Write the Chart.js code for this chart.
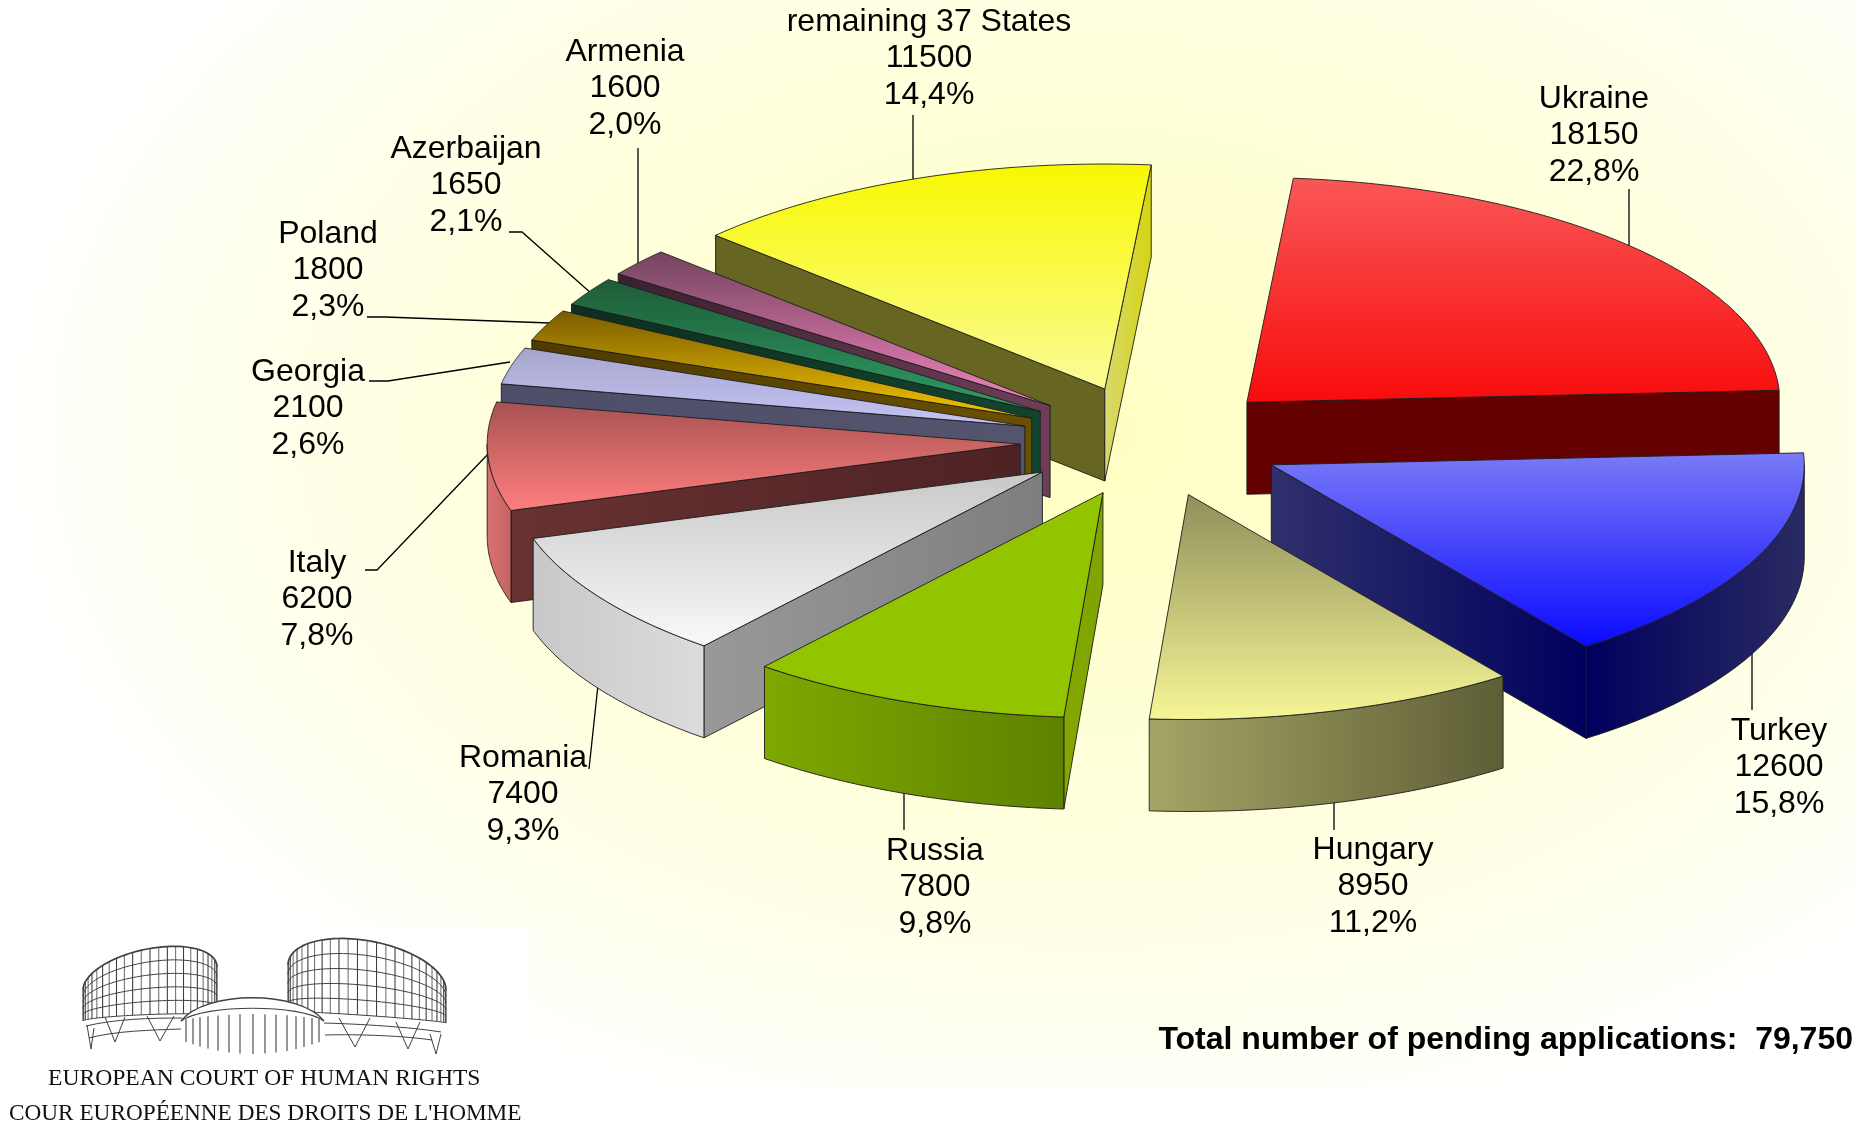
<!DOCTYPE html>
<html>
<head>
<meta charset="utf-8">
<title>Pending applications</title>
<script src="https://cdn.jsdelivr.net/npm/chart.js@4/dist/chart.umd.js"></script>
<style>
html,body{margin:0;padding:0;background:#ffffff;overflow:hidden}
#wrap{width:1855px;height:1136px}
canvas{display:block}
</style>
</head>
<body>
<div id="wrap"><canvas id="c" width="1855" height="1136"></canvas></div>
<script>
const categories = ['Ukraine','Turkey','Hungary','Russia','Romania','Italy','Georgia','Poland','Azerbaijan','Armenia','remaining 37 States'];
const pending = [18150,12600,8950,7800,7400,6200,2100,1800,1650,1600,11500];
const shares = ['22,8%','15,8%','11,2%','9,8%','9,3%','7,8%','2,6%','2,3%','2,1%','2,0%','14,4%'];
const totalLabel = 'Total number of pending applications:  79,750';

/* layout and style: separate from the data */
const TILT = 0.422, DEPTH = 92, EXPLODE = 132, RADIUS = 533, ROTATION = 5;
const looks = [
 {top:['#f95757','#f80c0c'], wallE:['#640000','#640000']},
 {top:['#7a7af8','#0a0aff'], wallE:['#30306c','#00005e'], arc:['#00005e','#2a2a62']},
 {top:['#8f8f5a','#f6f696'], arc:['#a5a566','#5e5e36']},
 {top:['#92c500','#92c500'], wallS:['#84a800','#80a400'], arc:['#7fa800','#5e8200']},
 {top:['#c8c8c8','#f9f9f9'], wallS:['#999999','#7e7e7e'], arc:['#c8c8c8','#dcdcdc']},
 {top:['#a85252','#ff7e7e'], wallS:['#683232','#4e2224'], arc:['#d87070','#c86464']},
 {top:['#a6a6cc','#c4c4f6'], wallS:['#4e4e68','#54546e']},
 {top:['#7a5c00','#f4c400'], wallS:['#4e3a00','#6a5000']},
 {top:['#1e5c38','#2f9c64'], wallS:['#0e2e1e','#12452e']},
 {top:['#74445f','#f284bc'], wallS:['#3a2030','#6e3e58']},
 {top:['#f8f800','#fbfb98'], wallS:['#666622','#666622'], wallE:['#d8d870','#d4d410']}
];
const labelAt = [[1594,99],[1779,731],[1373,850],[935,851],[523,758],[317,563],[308,372],[328,234],[466,149],[625,52],[929,22]];
const leaders = [
 [[1629,189],[1629,250]],
 [[1752,640],[1752,710]],
 [[1334,800],[1334,830]],
 [[904,790],[904,830]],
 [[598,685],[589,769]],
 [[365,570],[377,570],[490,452]],
 [[369,381],[388,381],[510,362]],
 [[367,317],[385,317],[550,323]],
 [[509,232],[522,232],[592,294]],
 [[638,148],[638,265]],
 [[913,115],[913,182]]
];
const LINE = 36.6;

function wallGradient(ctx, colors, x0, x1){
  const g = ctx.createLinearGradient(Math.min(x0,x1),0,Math.max(x0,x1)+0.01,0);
  g.addColorStop(0,colors[0]); g.addColorStop(1,colors[1]);
  return g;
}
function polygon(ctx, pts){
  ctx.beginPath();
  pts.forEach((p,i)=> i?ctx.lineTo(p[0],p[1]):ctx.moveTo(p[0],p[1]));
  ctx.closePath();
}
function paint(ctx, pts, fill){
  polygon(ctx, pts);
  ctx.fillStyle = fill; ctx.fill();
  ctx.strokeStyle = '#1c1c1c'; ctx.lineWidth = 0.9; ctx.lineJoin='round'; ctx.stroke();
}
function drawSlice(ctx, arc, look){
  const s = arc.startAngle, e = arc.endAngle, R = arc.outerRadius, m = (s+e)/2;
  const cx = arc.x + Math.cos(m)*EXPLODE, cy = arc.y + Math.sin(m)*EXPLODE*TILT;
  const at = (t,d=0)=>[cx+Math.cos(t)*R, cy+Math.sin(t)*R*TILT+d];
  const apex = [cx,cy], down = p=>[p[0],p[1]+DEPTH];
  if (look.wallS && -Math.cos(s) > 0){
    const a = at(s);
    paint(ctx,[apex,a,down(a),down(apex)],wallGradient(ctx,look.wallS,apex[0],a[0]));
  }
  if (look.wallE && Math.cos(e) > 0){
    const a = at(e);
    paint(ctx,[apex,a,down(a),down(apex)],wallGradient(ctx,look.wallE,apex[0],a[0]));
  }
  const a0 = Math.max(s,0), a1 = Math.min(e,Math.PI);
  if (look.arc && a1 > a0){
    const upper = [];
    for (let i=0;i<=60;i++) upper.push(at(a0+(a1-a0)*i/60));
    const lower = upper.map(down).reverse();
    const xs = upper.map(p=>p[0]);
    paint(ctx,upper.concat(lower),wallGradient(ctx,look.arc,Math.min(...xs),Math.max(...xs)));
  }
  const rim = [apex];
  for (let i=0;i<=80;i++) rim.push(at(s+(e-s)*i/80));
  const ys = rim.map(p=>p[1]);
  const g = ctx.createLinearGradient(0,Math.min(...ys),0,Math.max(...ys));
  g.addColorStop(0,look.top[0]); g.addColorStop(1,look.top[1]);
  paint(ctx,rim,g);
}

function drum(ctx,x0,x1,top,bot,nV,nH){
  const cx=(x0+x1)/2, rx=(x1-x0)/2;
  const P=(th,c)=>{const x=cx-rx*Math.cos(th);const t=(x-x0)/(x1-x0);return [x,c[0]+(c[1]-c[0])*t-c[2]*Math.sin(th)];};
  const ring=(th,f)=>{const a=P(th,top),b=P(th,bot);return [a[0],a[1]+(b[1]-a[1])*f];};
  for(let j=0;j<=nH;j++){
    ctx.beginPath();
    for(let i=0;i<=50;i++){const p=ring(Math.PI*i/50,j/nH); i?ctx.lineTo(p[0],p[1]):ctx.moveTo(p[0],p[1]);}
    ctx.lineWidth=j===0?1.7:1; ctx.stroke();
  }
  for(let i=0;i<=nV;i++){
    const th=Math.PI*i/nV, a=ring(th,0), b=ring(th,1);
    ctx.lineWidth=i%2?0.8:1.1;
    ctx.beginPath();ctx.moveTo(a[0],a[1]);ctx.lineTo(b[0],b[1]);ctx.stroke();
  }
}
function strokePts(ctx,pts,w){ctx.lineWidth=w||1;ctx.beginPath();pts.forEach((p,i)=>i?ctx.lineTo(p[0],p[1]):ctx.moveTo(p[0],p[1]));ctx.stroke();}
function curve(ctx,p0,c1,c2,p1,w){ctx.lineWidth=w;ctx.beginPath();ctx.moveTo(p0[0],p0[1]);ctx.bezierCurveTo(c1[0],c1[1],c2[0],c2[1],p1[0],p1[1]);ctx.stroke();}
function drawLogo(ctx){
  ctx.save();
  ctx.strokeStyle='#404040';
  drum(ctx,83,217,[990,967,30],[1021,1016,4],24,5);
  drum(ctx,288,446,[965,990,37],[1012,1023,2],26,5);
  curve(ctx,[86,1026],[115,1019],[150,1018],[182,1018],1);
  curve(ctx,[89,1038],[115,1031],[150,1030],[182,1029],1);
  [[105,115,125,1017,1042],[147,160,174,1016,1041]].forEach(v=>strokePts(ctx,[[v[0],v[3]],[v[1],v[4]],[v[2],v[3]]],1));
  strokePts(ctx,[[87,1025],[91,1049],[94,1028]],1);
  curve(ctx,[324,1023],[360,1024],[410,1027],[441,1032],1);
  curve(ctx,[325,1035],[360,1034],[405,1036],[432,1040],1);
  [[339,355,370,1018,1047],[396,408,420,1022,1049]].forEach(v=>strokePts(ctx,[[v[0],v[3]],[v[1],v[4]],[v[2],v[3]]],1));
  strokePts(ctx,[[430,1034],[436,1054],[441,1034]],1);
  ctx.fillStyle='#ffffff';
  ctx.beginPath();ctx.moveTo(181,1021);ctx.bezierCurveTo(205,990,300,990,324,1021);ctx.lineTo(324,1060);ctx.lineTo(181,1060);ctx.closePath();ctx.fill();
  const xs=[186,193,200,208,218,229,240,253,265,276,287,296,304,312,319];
  xs.forEach(x=>{const u=(x-253)/72;const y0=1014+6*u*u,y1=1054-14*u*u;ctx.lineWidth=1.1;ctx.beginPath();ctx.moveTo(x,y0);ctx.lineTo(x,y1);ctx.stroke();});
  curve(ctx,[181,1021],[205,990],[300,990],[324,1021],1.4);
  curve(ctx,[181,1021],[205,1004],[300,1004],[324,1021],1.2);
  ctx.restore();
  ctx.fillStyle='#111';
  ctx.textAlign='left';ctx.textBaseline='middle';
  ctx.font='23.6px "Liberation Serif"';
  ctx.fillText('EUROPEAN COURT OF HUMAN RIGHTS',48,1079);
  ctx.font='23.25px "Liberation Serif"';
  ctx.fillText("COUR EUROPÉENNE DES DROITS DE L'HOMME",9,1114);
}

const pie3d = {
  id:'pie3d',
  beforeDraw(chart){
    const ctx=chart.ctx;
    ctx.save();
    ctx.fillStyle='#ffffff';ctx.fillRect(0,0,1855,1136);
    ctx.save();
    ctx.translate(1085,430);ctx.scale(1,0.66);
    const g=ctx.createRadialGradient(0,0,30,0,0,1090);
    g.addColorStop(0,'#ffffc4');
    g.addColorStop(0.35,'#ffffd4');
    g.addColorStop(0.6,'#ffffe2');
    g.addColorStop(0.82,'#fffff0');
    g.addColorStop(1,'#ffffff');
    ctx.fillStyle=g;ctx.fillRect(-1200,-1000,2400,2000);
    ctx.restore();
    ctx.fillStyle='#ffffff';ctx.fillRect(0,927,530,205);
    ctx.strokeStyle='#000';
    leaders.forEach(l=>strokePts(ctx,l,1.3));
    ctx.restore();
  },
  beforeDatasetDraw(chart,args){
    const ctx=chart.ctx, arcs=chart.getDatasetMeta(args.index).data;
    const order=arcs.map((a,i)=>i).sort((i,j)=>Math.sin((arcs[i].startAngle+arcs[i].endAngle)/2)-Math.sin((arcs[j].startAngle+arcs[j].endAngle)/2));
    ctx.save();
    order.forEach(i=>drawSlice(ctx,arcs[i],looks[i]));
    ctx.restore();
    return false;
  },
  afterDraw(chart){
    const ctx=chart.ctx;
    ctx.save();
    ctx.fillStyle='#000';
    ctx.font='32px "Liberation Sans"';
    ctx.textAlign='center';ctx.textBaseline='middle';
    categories.forEach((c,i)=>{
      const [x,y]=labelAt[i];
      ctx.fillText(c,x,y);
      ctx.fillText(String(pending[i]),x,y+LINE);
      ctx.fillText(shares[i],x,y+2*LINE);
    });
    ctx.font='bold 32px "Liberation Sans"';
    ctx.textAlign='right';
    ctx.fillText(totalLabel,1853,1040);
    drawLogo(ctx);
    ctx.restore();
  }
};

new Chart(document.getElementById('c'),{
  type:'pie',
  data:{labels:categories,datasets:[{data:pending,borderWidth:0}]},
  options:{
    responsive:false,animation:false,
    rotation:ROTATION,radius:RADIUS,
    layout:{padding:{left:449,right:0,top:0,bottom:254}},
    plugins:{legend:{display:false},tooltip:{enabled:false},title:{display:false}},
    events:[]
  },
  plugins:[pie3d]
});
</script>
</body>
</html>
